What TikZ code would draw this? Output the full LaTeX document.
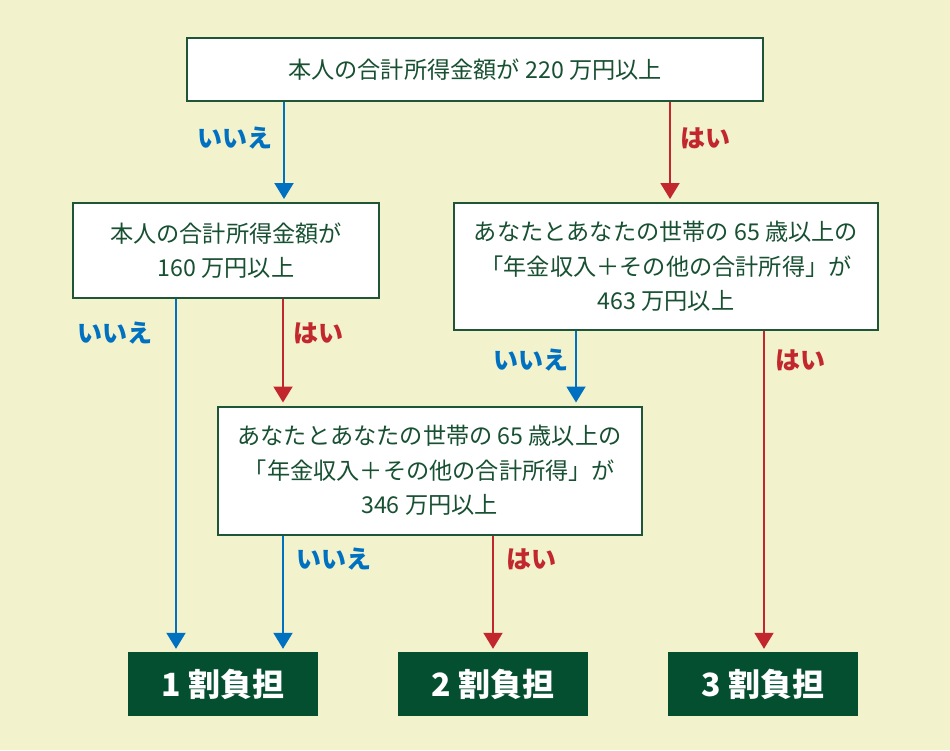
\documentclass[tikz,border=0pt]{standalone}
\usepackage{fontspec}
\usepackage{xcolor}
\setmainfont{Noto Sans CJK JP}
\usetikzlibrary{arrows.meta}
\definecolor{bg}{RGB}{242,242,204}
\definecolor{frame}{RGB}{30,86,55}
\definecolor{ink}{RGB}{24,80,50}
\definecolor{dark}{RGB}{5,79,49}
\definecolor{hai}{RGB}{193,39,45}
\definecolor{iie}{RGB}{0,112,192}
\newcommand{\drawhai}{\draw[hai,line width=2pt,-{Triangle[width=19pt,length=16pt]},shorten >=3pt]}
\newcommand{\drawiie}{\draw[iie,line width=2pt,-{Triangle[width=19pt,length=16pt]},shorten >=3pt]}
\newcommand{\labelhai}[3]{\node[answer,text=hai] (#1) at (#2,#3) {はい};}
\newcommand{\labeliie}[3]{\node[answer,text=iie] (#1) at (#2,#3) {いいえ};}
\tikzset{
  askbox/.style={draw=frame,line width=2pt,fill=white,text=ink,align=center,inner sep=0pt,
    font=\fontsize{23.2}{34.5}\selectfont},
  resultbox/.style={fill=dark,text=white,inner sep=0pt,minimum width=190,minimum height=64,
    font=\bfseries\fontsize{32}{32}\selectfont},
  answer/.style={inner sep=0pt,font=\bfseries\fontsize{25}{25}\selectfont}
}

\begin{document}
\begin{tikzpicture}[x=1pt,y=-1pt]
\fill[bg] (0,0) rectangle (950,750);
\node[askbox,minimum width=576,minimum height=63] (top) at (475,69.5) {本人の合計所得金額が 220 万円以上};
    \node[askbox,minimum width=306,minimum height=95] (low) at (226,250.5) {本人の合計所得金額が\\160 万円以上};
    \node[askbox,minimum width=424,minimum height=127] (high) at (666,266.5) {あなたとあなたの世帯の 65 歳以上の\\「年金収入＋その他の合計所得」が\\463 万円以上};
    \node[askbox,minimum width=424,minimum height=128] (mid) at (429.5,470.5) {あなたとあなたの世帯の 65 歳以上の\\「年金収入＋その他の合計所得」が\\346 万円以上};
\node[resultbox] (one) at (223,684) {1 割負担};
    \node[resultbox] (two) at (493,684) {2 割負担};
    \node[resultbox] (three) at (763,684) {3 割負担};
\drawiie (top.south -| 284,0) -- (low.north -| 284,0);
    \drawhai (top.south -| 670,0) -- (high.north -| 670,0);
    \drawiie (low.south -| 176,0) -- (one.north -| 176,0);
    \drawhai (low.south -| 283,0) -- (mid.north -| 283,0);
    \drawiie (high.south -| 576,0) -- (mid.north -| 576,0);
    \drawhai (high.south -| 764,0) -- (three.north -| 764,0);
    \drawiie (mid.south -| 283,0) -- (one.north -| 283,0);
    \drawhai (mid.south -| 493,0) -- (two.north -| 493,0);
\labeliie{n1}{235}{138}\labelhai{y1}{705}{138}\labeliie{n2}{115}{333}\labelhai{y2}{318}{333}\labeliie{n3}{531}{360}\labelhai{y3}{800}{360}\labeliie{n4}{334}{559}\labelhai{y4}{531}{559}
\end{tikzpicture}
\end{document}
